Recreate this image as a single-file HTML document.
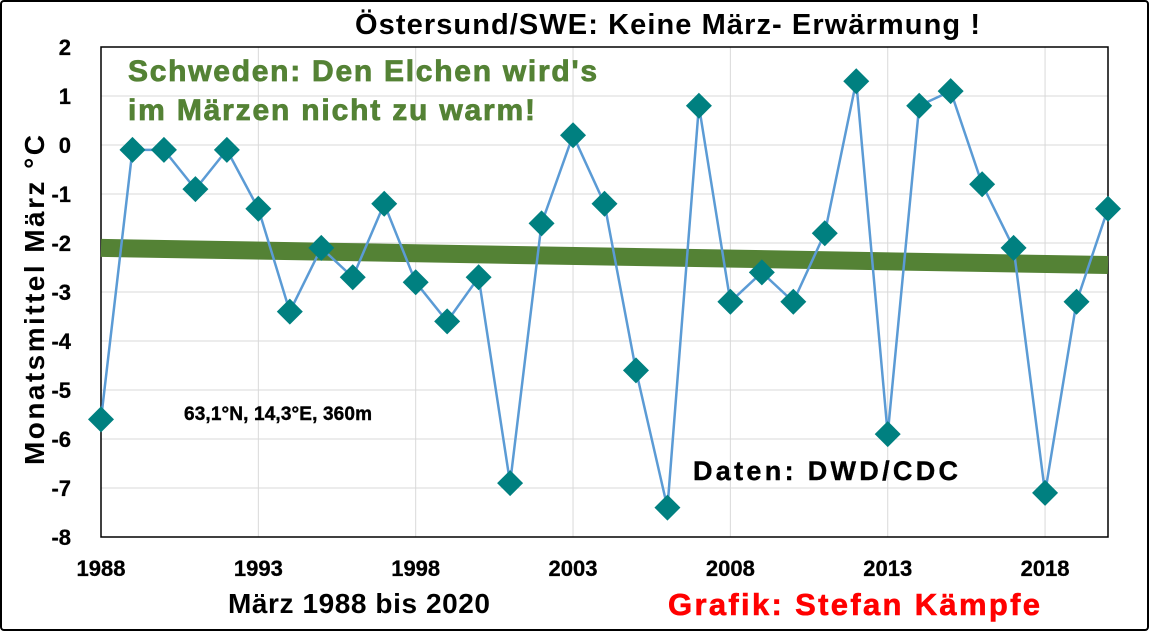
<!DOCTYPE html>
<html><head><meta charset="utf-8"><style>
body{margin:0;background:#fff;}
svg{display:block;font-family:"Liberation Sans",Arial,sans-serif;}
</style></head><body>
<svg width="1150" height="632">
<rect x="1" y="1" width="1147" height="629" fill="#fff" stroke="#000" stroke-width="2" rx="3"/>
<g id="grid"></g>
<rect x="101" y="47" width="1007" height="490" fill="none" stroke="#000" stroke-width="1.5"/>
<g id="trend"></g>
<g id="series"></g>
<g id="axes"></g>
<text x="355" y="34" font-size="29" font-weight="bold" textLength="625">Östersund/SWE: Keine März- Erwärmung !</text>
<text x="128" y="81" font-size="30" font-weight="bold" fill="#548235" stroke="#548235" stroke-width="0.8" textLength="469">Schweden: Den Elchen wird's</text>
<text x="128" y="120" font-size="30" font-weight="bold" fill="#548235" stroke="#548235" stroke-width="0.8" textLength="407">im Märzen nicht zu warm!</text>
<text x="184" y="420" font-size="19" font-weight="bold" stroke="#000" stroke-width="0.4" textLength="188">63,1°N, 14,3°E, 360m</text>
<text x="693" y="480" font-size="27" font-weight="bold" stroke="#000" stroke-width="0.4" textLength="265">Daten: DWD/CDC</text>
<text x="228" y="613" font-size="28" font-weight="bold" textLength="262">März 1988 bis 2020</text>
<text x="668" y="615" font-size="31" font-weight="bold" fill="#ff0000" stroke="#ff0000" stroke-width="0.6" textLength="372">Grafik: Stefan Kämpfe</text>
<text transform="translate(44,300) rotate(-90)" font-size="28" font-weight="bold" text-anchor="middle" textLength="330">Monatsmittel März °C</text>
</svg>
<script>
const years=[1988,1989,1990,1991,1992,1993,1994,1995,1996,1997,1998,1999,2000,2001,2002,2003,2004,2005,2006,2007,2008,2009,2010,2011,2012,2013,2014,2015,2016,2017,2018,2019,2020];
const temps=[-5.6,-0.1,-0.1,-0.9,-0.1,-1.3,-3.4,-2.1,-2.7,-1.2,-2.8,-3.6,-2.7,-6.9,-1.6,0.2,-1.2,-4.6,-7.4,0.8,-3.2,-2.6,-3.2,-1.8,1.3,-5.9,0.8,1.1,-0.8,-2.1,-7.1,-3.2,-1.3];
const trendEnds=[-2.1,-2.45];
const yTicks=[2,1,0,-1,-2,-3,-4,-5,-6,-7,-8];
const xTicks=[1988,1993,1998,2003,2008,2013,2018];
const NS="http://www.w3.org/2000/svg";
const X=y=>101+(y-1988)*(1007/32);
const Y=v=>145-49*v;
function mk(t,a,p){const e=document.createElementNS(NS,t);for(const k in a)e.setAttribute(k,a[k]);p.appendChild(e);return e;}
const grid=document.getElementById('grid'),axes=document.getElementById('axes');
yTicks.forEach(v=>{
 const l=mk('line',{x1:101,x2:1108,y1:Y(v),y2:Y(v),stroke:'#d9d9d9','stroke-width':1},grid);
 
 
 const t=mk('text',{x:71,y:Y(v)+8,'font-size':22,'font-weight':'bold','text-anchor':'end',stroke:'#000','stroke-width':0.3},axes);
 t.textContent=v;
 
 
});
xTicks.forEach(yr=>{
 const l=mk('line',{x1:X(yr),x2:X(yr),y1:47,y2:537,stroke:'#d9d9d9','stroke-width':1},grid);
 
 
 const t=mk('text',{x:X(yr),y:576,'font-size':22,'font-weight':'bold','text-anchor':'middle',stroke:'#000','stroke-width':0.3},axes);
 t.textContent=yr;
 
 
});
const tr=mk('line',{x1:101,x2:1108,y1:Y(trendEnds[0]),y2:Y(trendEnds[1]),stroke:'#548235','stroke-width':18},document.getElementById('trend'));


const s=document.getElementById('series');
const pl=mk('polyline',{points:years.map((y,i)=>X(y)+','+Y(temps[i])).join(' '),fill:'none',stroke:'#5b9bd5','stroke-width':2.5},s);


years.forEach((y,i)=>{
 const cx=X(y),cy=Y(temps[i]),r=13;
 const m=mk('polygon',{points:`${cx},${cy-r} ${cx+r},${cy} ${cx},${cy+r} ${cx-r},${cy}`,fill:'#008080'},s);
 
 
});
</script>
</body></html>
